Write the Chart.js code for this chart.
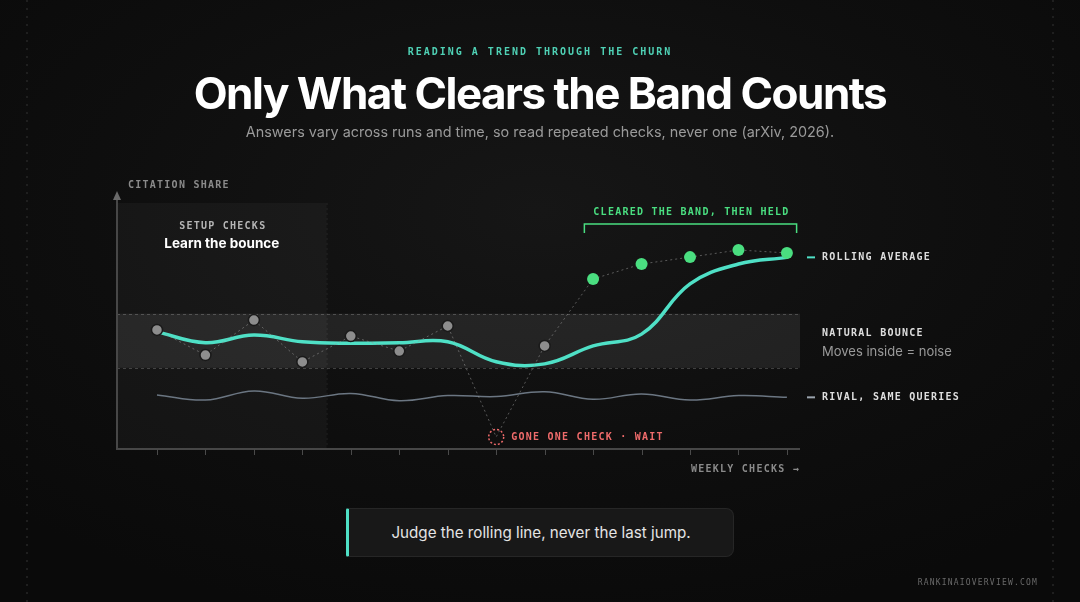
<!DOCTYPE html>
<html>
<head>
<meta charset="utf-8">
<script src="https://cdn.jsdelivr.net/npm/chart.js@4.4.1/dist/chart.umd.min.js"></script>
<style>
  html, body { margin: 0; padding: 0; }
  body {
    width: 1080px; height: 602px; overflow: hidden; position: relative;
    background: radial-gradient(ellipse 70% 70% at 50% 35%, #161616 0%, #0e0e0e 60%, #0a0a0a 100%);
    font-family: Inter, "Noto Sans", sans-serif;
  }
  .vdots { position: absolute; top: 0; width: 2px; height: 602px;
    background: repeating-linear-gradient(to bottom, #1f1f1f 0 2px, transparent 2px 8px); }
  #c { position: absolute; left: 0; top: 0; }
  .t { position: absolute; left: 0; width: 1080px; text-align: center; white-space: nowrap; }
  #kicker { top: 42px; font: bold 10px "DejaVu Sans Mono", monospace; line-height: 20px;
    letter-spacing: 2px; color: #4fd1b5; }
  #title { top: 67px; line-height: 52px; font-size: 44px; font-weight: 700; letter-spacing: -1.5px; color: #ffffff; }
  #sub { top: 122px; line-height: 20px; font-size: 14.4px; color: #9a9a9a; }
  #callout { position: absolute; left: 346px; top: 508px; width: 384px; height: 47px;
    background: #181818; border: 1px solid #262626; border-left: 3px solid #4fe0c6;
    border-radius: 2px 8px 8px 2px; color: #e4e4e4; font-size: 15.2px; line-height: 47px; text-align: center; }
  #footer { position: absolute; right: 42px; top: 576px;
    font: 8px "DejaVu Sans Mono", monospace; line-height: 14px; letter-spacing: 1.2px; color: #6a6a6a; }
</style>
</head>
<body>
<div class="vdots" style="left:26px"></div>
<div class="vdots" style="left:1052px"></div>
<canvas id="c" width="1080" height="602"></canvas>
<div class="t" id="kicker">READING A TREND THROUGH THE CHURN</div>
<div class="t" id="title">Only What Clears the Band Counts</div>
<div class="t" id="sub">Answers vary across runs and time, so read repeated checks, never one (arXiv, 2026).</div>
<div id="callout">Judge the rolling line, never the last jump.</div>
<div id="footer">RANKINAIOVERVIEW.COM</div>
<script>
// ---- data ----
const weeks = [0, 1, 2, 3, 4, 5, 6, 7, 8, 9, 10, 11, 12, 13];
const rawChecks = [48.4, 38.2, 52.4, 35.4, 45.9, 39.8, 50.0, 4.9, 41.9, 69.1, 75.2, 78.0, 80.9, 79.7];
const rollingAverage = [47.6, 43.2, 46.3, 43.6, 43.0, 43.2, 43.6, 35.5, 34.6, 41.9, 46.7, 67.1, 75.2, 77.9];
const rivalShare = [22.0, 19.9, 23.6, 20.6, 22.6, 19.6, 21.7, 21.3, 23.3, 20.2, 22.4, 19.9, 21.7, 21.0];
const bandRange = [33, 55];
const setupEnd = 3.5;
const droppedIndex = 7;
const heldFrom = 9;

const TEAL = '#4fe0c6', GREEN = '#4ade80', RED = '#ef6b6b';
const MONO = '"DejaVu Sans Mono", monospace';

const ptColor = weeks.map(i => i >= heldFrom ? GREEN : '#8d8d8d');
const ptBorder = weeks.map(i => i >= heldFrom ? 'rgba(0,0,0,0)' : '#1a1a1a');
const ptRadius = weeks.map(i => i === droppedIndex ? 0 : (i >= heldFrom ? 6 : 5.5));

function mono(ctx, size, color, weight) {
  ctx.font = (weight || 'bold') + ' ' + size + 'px ' + MONO;
  ctx.fillStyle = color;
  ctx.letterSpacing = '1.25px';
}

const decor = {
  id: 'decor',
  beforeDatasetsDraw(chart) {
    const { ctx, chartArea: a, scales: { x, y } } = chart;
    ctx.save();
    const sx = x.getPixelForValue(setupEnd);
    ctx.fillStyle = 'rgba(255,255,255,0.035)';
    ctx.fillRect(a.left, a.top, sx - a.left, a.bottom - a.top);
    ctx.strokeStyle = 'rgba(255,255,255,0.07)';
    ctx.setLineDash([2, 3]); ctx.lineWidth = 1;
    ctx.beginPath(); ctx.moveTo(sx + 0.5, a.top); ctx.lineTo(sx + 0.5, a.bottom); ctx.stroke();
    const b1 = y.getPixelForValue(bandRange[1]), b0 = y.getPixelForValue(bandRange[0]);
    ctx.fillStyle = 'rgba(255,255,255,0.08)';
    ctx.fillRect(a.left, b1, a.right - a.left, b0 - b1);
    ctx.strokeStyle = 'rgba(255,255,255,0.2)';
    ctx.setLineDash([3, 3]);
    ctx.beginPath();
    ctx.moveTo(a.left, Math.round(b1) + 0.5); ctx.lineTo(a.right, Math.round(b1) + 0.5);
    ctx.moveTo(a.left, Math.round(b0) + 0.5); ctx.lineTo(a.right, Math.round(b0) + 0.5);
    ctx.stroke();
    ctx.setLineDash([]);
    ctx.strokeStyle = '#474747'; ctx.lineWidth = 2;
    ctx.beginPath();
    ctx.moveTo(a.left, a.top - 6); ctx.lineTo(a.left, a.bottom);
    ctx.lineTo(a.right, a.bottom);
    ctx.stroke();
    ctx.fillStyle = '#6a6a6a';
    ctx.beginPath();
    ctx.moveTo(a.left, a.top - 12); ctx.lineTo(a.left - 4, a.top - 3); ctx.lineTo(a.left + 4, a.top - 3);
    ctx.closePath(); ctx.fill();
    ctx.strokeStyle = '#4a4a4a'; ctx.lineWidth = 1;
    ctx.beginPath();
    weeks.forEach(w => {
      const px = Math.round(x.getPixelForValue(w)) + 0.5;
      ctx.moveTo(px, a.bottom); ctx.lineTo(px, a.bottom + 6);
    });
    ctx.stroke();
    ctx.restore();
  },
  afterDatasetsDraw(chart) {
    const { ctx, chartArea: a, scales: { x, y } } = chart;
    ctx.save();
    ctx.textBaseline = 'middle';
    const dx = x.getPixelForValue(droppedIndex), dy = y.getPixelForValue(rawChecks[droppedIndex]);
    ctx.strokeStyle = RED; ctx.lineWidth = 1.5; ctx.setLineDash([2, 2]);
    ctx.beginPath(); ctx.arc(dx, dy, 7.5, 0, Math.PI * 2); ctx.stroke();
    ctx.setLineDash([]);
    mono(ctx, 10, RED);
    ctx.textAlign = 'left';
    ctx.fillText('GONE ONE CHECK · WAIT', dx + 15, dy);
    mono(ctx, 10, '#8a8a8a');
    ctx.fillText('CITATION SHARE', a.left + 11, a.top - 18);
    ctx.textAlign = 'right';
    ctx.fillText('WEEKLY CHECKS →', a.right, a.bottom + 20);
    const sx = (a.left + x.getPixelForValue(setupEnd)) / 2;
    ctx.textAlign = 'center';
    mono(ctx, 10, '#b5b5b5');
    ctx.fillText('SETUP CHECKS', sx + 1, 226);
    ctx.letterSpacing = '0px';
    ctx.font = 'bold 13.5px Inter, sans-serif'; ctx.fillStyle = '#ffffff';
    ctx.fillText('Learn the bounce', sx, 244);
    const hx0 = x.getPixelForValue(heldFrom - 0.18), hx1 = x.getPixelForValue(weeks[weeks.length - 1] + 0.2);
    ctx.strokeStyle = GREEN; ctx.lineWidth = 1.5;
    ctx.beginPath();
    ctx.moveTo(hx0, 233); ctx.lineTo(hx0, 224); ctx.lineTo(hx1, 224); ctx.lineTo(hx1, 233);
    ctx.stroke();
    mono(ctx, 10, GREEN);
    ctx.fillText('CLEARED THE BAND, THEN HELD', (hx0 + hx1) / 2 + 1, 212);
    const lx = a.right + 7;
    const lastAvg = y.getPixelForValue(rollingAverage[rollingAverage.length - 1]);
    const lastRiv = y.getPixelForValue(rivalShare[rivalShare.length - 1]);
    ctx.lineWidth = 2;
    ctx.strokeStyle = TEAL;
    ctx.beginPath(); ctx.moveTo(lx, lastAvg); ctx.lineTo(lx + 8, lastAvg); ctx.stroke();
    ctx.strokeStyle = '#9aa3ad';
    ctx.beginPath(); ctx.moveTo(lx, lastRiv); ctx.lineTo(lx + 8, lastRiv); ctx.stroke();
    ctx.textAlign = 'left';
    mono(ctx, 10, '#dedede');
    ctx.fillText('ROLLING AVERAGE', lx + 15, lastAvg);
    ctx.fillText('RIVAL, SAME QUERIES', lx + 15, lastRiv);
    ctx.fillText('NATURAL BOUNCE', lx + 15, 333);
    ctx.letterSpacing = '0px';
    ctx.font = '13px Inter, sans-serif'; ctx.fillStyle = '#9a9a9a';
    ctx.fillText('Moves inside = noise', lx + 15, 352);
    ctx.restore();
  }
};

new Chart(document.getElementById('c'), {
  type: 'line',
  data: {
    labels: weeks,
    datasets: [
      {
        label: 'Weekly checks',
        data: weeks.map((w, i) => ({ x: w, y: rawChecks[i] })),
        borderColor: 'rgba(150,150,150,0.55)', borderWidth: 1, borderDash: [2, 3],
        tension: 0,
        pointRadius: ptRadius, pointBackgroundColor: ptColor,
        pointBorderColor: ptBorder, pointBorderWidth: 1.5
      },
      {
        label: 'Rolling average',
        data: weeks.map((w, i) => ({ x: w, y: rollingAverage[i] })),
        borderColor: TEAL, borderWidth: 3.5, tension: 0.4,
        pointRadius: 0, borderCapStyle: 'round'
      },
      {
        label: 'Rival, same queries',
        data: weeks.map((w, i) => ({ x: w, y: rivalShare[i] })),
        borderColor: '#6b7682', borderWidth: 1.5, tension: 0.4, pointRadius: 0
      }
    ]
  },
  options: {
    responsive: false, animation: false, devicePixelRatio: 1,
    layout: { padding: { left: 117, top: 203, right: 280, bottom: 153 } },
    plugins: { legend: { display: false }, tooltip: { enabled: false } },
    scales: {
      x: { type: 'linear', min: -0.825, max: 13.27, display: false },
      y: { min: 0, max: 100, display: false }
    }
  },
  plugins: [decor]
});
</script>
</body>
</html>
